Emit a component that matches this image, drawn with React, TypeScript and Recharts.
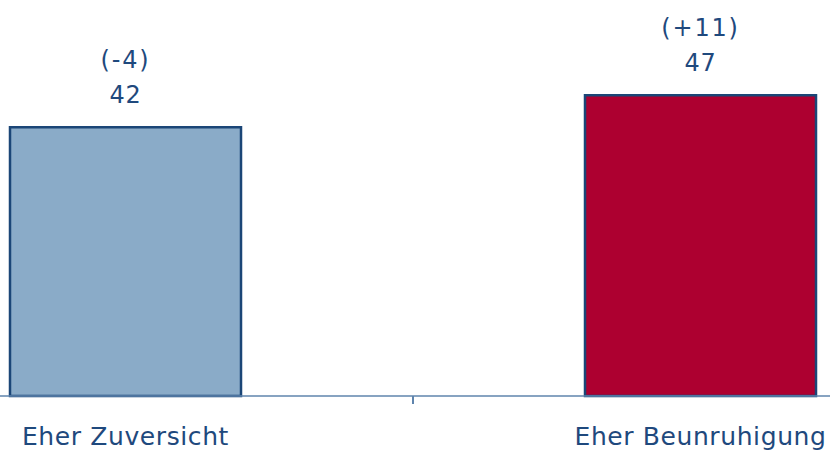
import React from 'react';
import { BarChart, Bar, XAxis, YAxis, Cell, LabelList } from 'recharts';

const categories = ['Eher Zuversicht', 'Eher Beunruhigung'];
const values = [42, 47];
const changes = ['(-4)', '(+11)'];
const barColors = ['#8aabc8', '#ad0030'];

const data = categories.map((name, i) => ({ name, value: values[i], change: changes[i] }));

const TEXT = '#1f497d';
const AXIS = '#5f84ad';
const FONT = '"DejaVu Sans", Verdana, sans-serif';

const CategoryTick = (props: any) => {
    const { x, y, payload, index } = props;
    const half = payload.offset ?? 0;
    return (
        <g>
            {index === 0 && (
                <line x1={x + half} x2={x + half} y1={y - 8} y2={y} stroke={AXIS} strokeWidth={2} />
            )}
            <text x={x} y={y} dy={41} textAnchor="middle" fill={TEXT} fontSize={25} fontFamily={FONT} letterSpacing={0.6}>
                {payload.value}
            </text>
        </g>
    );
};

const ValueLabel = (props: any) => {
    const { x, y, width, index } = props;
    const cx = x + width / 2;
    return (
        <g fill={TEXT} fontSize={24} fontFamily={FONT} textAnchor="middle">
            <text x={cx} y={y - 59} letterSpacing={1.8}>{changes[index]}</text>
            <text x={cx} y={y - 24} letterSpacing={0.8}>{values[index]}</text>
        </g>
    );
};

export default function App() {
    return (
        <div style={{ position: 'fixed', left: 0, top: 0, width: 830, height: 450, overflow: 'hidden', background: '#fff' }}>
            <div style={{ position: 'absolute', left: -162, top: 0 }}>
                <BarChart
                    width={1150}
                    height={450}
                    data={data}
                    margin={{ top: 12, right: 0, left: 0, bottom: 0 }}
                    barSize={231}
                >
                    <YAxis hide domain={[0, 60]} />
                    <XAxis
                        dataKey="name"
                        height={54}
                        axisLine={{ stroke: AXIS, strokeWidth: 1.5 }}
                        tickLine={false}
                        tick={<CategoryTick />}
                        interval={0}
                    />
                    <Bar dataKey="value" stroke="#1b4677" strokeWidth={2.5} isAnimationActive={false}>
                        {data.map((d, i) => (
                            <Cell key={d.name} fill={barColors[i]} />
                        ))}
                        <LabelList dataKey="value" content={<ValueLabel />} />
                    </Bar>
                </BarChart>
            </div>
        </div>
    );
}
